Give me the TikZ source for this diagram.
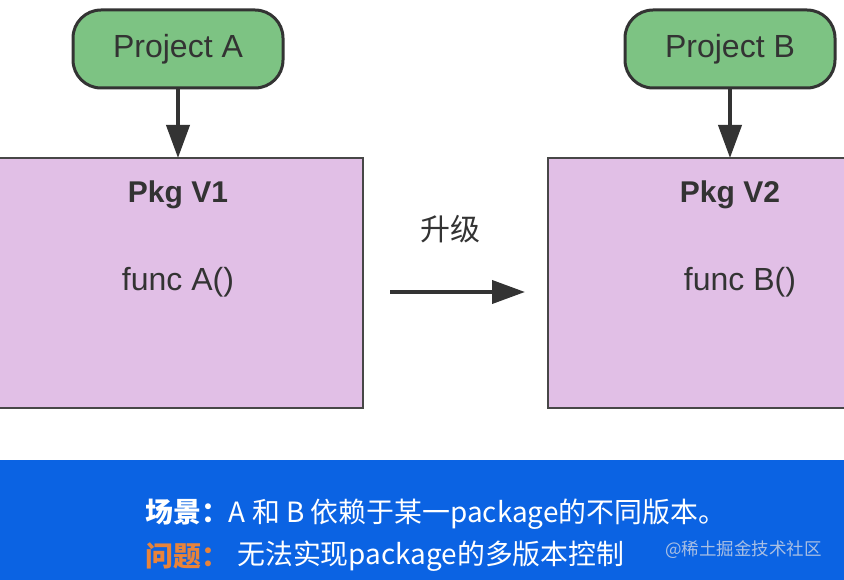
\documentclass[tikz,border=0pt]{standalone}
\usepackage{fontspec}
\setmainfont{Liberation Sans}
\newfontfamily\cjk{Noto Sans CJK SC}
\usetikzlibrary{arrows.meta}
\definecolor{projgreen}{HTML}{7DC383}
\definecolor{pkgpink}{HTML}{E1BFE6}
\definecolor{inkgray}{HTML}{333333}
\definecolor{bandblue}{HTML}{0B63E3}
\definecolor{qorange}{HTML}{E8833A}
\definecolor{wmgray}{HTML}{A9BFE3}
\tikzset{
  projbox/.style={draw=inkgray, line width=3pt, fill=projgreen, rounded corners=28pt,
    minimum width=210pt, minimum height=78pt, text=inkgray, font=\fontsize{32}{36}\selectfont},
  pkgbox/.style={draw=inkgray!90, line width=2pt, fill=pkgpink, minimum height=250pt},
  pkgtitle/.style={text=inkgray, font=\bfseries\fontsize{30}{34}\selectfont},
  functext/.style={text=inkgray, font=\fontsize{32}{36}\selectfont},
  conn/.style={draw=inkgray, line width=4pt, -{Triangle[length=33pt,width=23pt]}, shorten >=-1pt},
  bandtext/.style={text=white, anchor=west, font=\cjk\fontsize{27.9}{30}\selectfont, inner sep=0pt}
}
\begin{document}
\begin{tikzpicture}[x=1pt,y=-1pt]
\useasboundingbox (0,0) rectangle (844,580);
\clip (0,0) rectangle (844,580);
\fill[white] (0,0) rectangle (844,580);
% projects
\node[projbox] (projA) at (178,49) {Project A};
\node[projbox] (projB) at (730,49) {Project B};
% packages
\node[pkgbox, minimum width=374pt] (pkgA) at (176,283) {};
\node[pkgbox, minimum width=306pt] (pkgB) at (701,283) {};
\node[pkgtitle] (pkgAt) at (178,195) {Pkg V1};
\node[pkgtitle] (pkgBt) at (730,195) {Pkg V2};
\node[functext] (funcA) at (178,282) {func A()};
\node[functext] (funcB) at (740,282) {func B()};
% arrows
\draw[conn] (projA.south) -- (projA.south |- pkgA.north);
\draw[conn] (projB.south) -- (projB.south |- pkgB.north);
\coordinate (upS) at (390,292);
\coordinate (upE) at (524,292);
\draw[conn] (upS) -- (upE);
\node[text=inkgray, font=\cjk\fontsize{30}{34}\selectfont] (upg) at (450,229) {升级};
% bottom band
\fill[bandblue] (0,460) rectangle (844,580);
\node[bandtext] (line1) at (145,514) {\textbf{场景：}A 和 B 依赖于某一package的不同版本。};
\node[bandtext] (line2q) at (145,556) {\textcolor{qorange}{\textbf{问题：}}};
\node[bandtext] (line2) at (237,556) {无法实现package的多版本控制};
\node[text=wmgray, anchor=west, inner sep=0pt, font=\cjk\fontsize{17.5}{20}\selectfont] (wm) at (665,550) {@稀土掘金技术社区};
\end{tikzpicture}
\end{document}
